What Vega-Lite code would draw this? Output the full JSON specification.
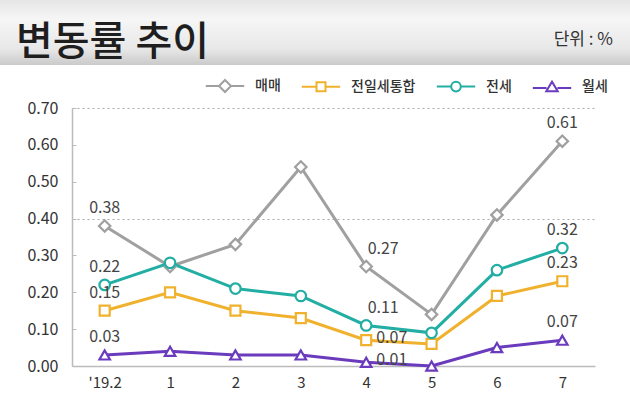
{
  "$schema": "https://vega.github.io/schema/vega-lite/v6.json",
  "padding": 0,
  "background": "white",
  "spacing": 14,
  "config": {"view": {"stroke": null}, "font": "Noto Sans CJK KR"},
  "resolve": {"scale": {"color": "independent"}, "legend": {"color": "independent"}},
  "vconcat": [
    {
      "spacing": 0,
      "hconcat": [
        {
          "width": 400,
          "height": 65,
          "data": {"values": [{"part": "header"}]},
          "mark": {"type": "rect", "fill": {"gradient": "linear", "x1": 0, "y1": 0, "x2": 0, "y2": 1, "stops": [{"offset": 0, "color": "#e6e6e6"}, {"offset": 0.3, "color": "#f6f6f6"}, {"offset": 0.75, "color": "#e8e8e8"}, {"offset": 1, "color": "#cacaca"}]}},
          "title": {"text": "변동률 추이", "orient": "top", "anchor": "start", "frame": "group", "offset": -95, "baseline": "alphabetic", "fontSize": 40, "fontWeight": 500, "color": "#1e1e1e", "dx": 16, "font": "Noto Sans CJK KR"}
        },
        {
          "width": 230,
          "height": 65,
          "data": {"values": [{"part": "header"}]},
          "mark": {"type": "rect", "fill": {"gradient": "linear", "x1": 0, "y1": 0, "x2": 0, "y2": 1, "stops": [{"offset": 0, "color": "#e6e6e6"}, {"offset": 0.3, "color": "#f6f6f6"}, {"offset": 0.75, "color": "#e8e8e8"}, {"offset": 1, "color": "#cacaca"}]}},
          "title": {"text": "단위 : %", "orient": "top", "anchor": "end", "frame": "group", "offset": -62, "baseline": "alphabetic", "fontSize": 17, "fontWeight": "normal", "color": "#333333", "dx": -17, "font": "Noto Sans CJK KR"}
        }
      ]
    },
    {
      "width": 595,
      "height": 258,
      "data": {"values": [
        {"month": "'19.2", "series": "매매", "value": 0.38},
        {"month": "1", "series": "매매", "value": 0.27},
        {"month": "2", "series": "매매", "value": 0.33},
        {"month": "3", "series": "매매", "value": 0.54},
        {"month": "4", "series": "매매", "value": 0.27},
        {"month": "5", "series": "매매", "value": 0.14},
        {"month": "6", "series": "매매", "value": 0.41},
        {"month": "7", "series": "매매", "value": 0.61},
        {"month": "'19.2", "series": "전일세통합", "value": 0.15},
        {"month": "1", "series": "전일세통합", "value": 0.20},
        {"month": "2", "series": "전일세통합", "value": 0.15},
        {"month": "3", "series": "전일세통합", "value": 0.13},
        {"month": "4", "series": "전일세통합", "value": 0.07},
        {"month": "5", "series": "전일세통합", "value": 0.06},
        {"month": "6", "series": "전일세통합", "value": 0.19},
        {"month": "7", "series": "전일세통합", "value": 0.23},
        {"month": "'19.2", "series": "전세", "value": 0.22},
        {"month": "1", "series": "전세", "value": 0.28},
        {"month": "2", "series": "전세", "value": 0.21},
        {"month": "3", "series": "전세", "value": 0.19},
        {"month": "4", "series": "전세", "value": 0.11},
        {"month": "5", "series": "전세", "value": 0.09},
        {"month": "6", "series": "전세", "value": 0.26},
        {"month": "7", "series": "전세", "value": 0.32},
        {"month": "'19.2", "series": "월세", "value": 0.03},
        {"month": "1", "series": "월세", "value": 0.04},
        {"month": "2", "series": "월세", "value": 0.03},
        {"month": "3", "series": "월세", "value": 0.03},
        {"month": "4", "series": "월세", "value": 0.01},
        {"month": "5", "series": "월세", "value": 0.00},
        {"month": "6", "series": "월세", "value": 0.05},
        {"month": "7", "series": "월세", "value": 0.07}
      ]},
      "encoding": {
        "x": {"field": "month", "type": "ordinal", "sort": null, "scale": {"type": "point", "padding": 0.5, "range": [72, 595]},
          "axis": {"title": null, "labelAngle": 0, "labelFontSize": 15, "labelColor": "#333333", "labelPadding": 9, "ticks": false, "domainColor": "#bbbbbb", "domainWidth": 1.5, "grid": false}},
        "y": {"field": "value", "type": "quantitative", "scale": {"domain": [0, 0.7], "nice": false},
          "axis": {"title": null, "offset": -72, "values": [0, 0.1, 0.2, 0.3, 0.4, 0.5, 0.6, 0.7], "format": ".2f", "labelFontSize": 16, "labelColor": "#333333", "labelPadding": 18, "tickSize": -4, "tickColor": "#bbbbbb", "domainColor": "#bbbbbb", "domainWidth": 1.5,
            "grid": true, "gridColor": "#aaaaaa", "gridDash": [2, 3], "gridWidth": 1,
            "gridOpacity": {"expr": "(datum.value > 0.39 && datum.value < 0.41) || datum.value > 0.69 ? 1 : 0"}}},
        "color": {"field": "series", "type": "nominal",
          "scale": {"domain": ["매매", "전일세통합", "전세", "월세"], "range": ["#a0a0a0", "#f0b22e", "#22aea3", "#6a3bbd"]},
          "legend": {"orient": "none", "legendX": 218, "legendY": -29, "direction": "horizontal", "title": null,
            "symbolSize": 144, "symbolStrokeWidth": 2, "labelFontSize": 14, "labelFontWeight": 500, "labelColor": "#333333", "labelOffset": 23, "columnPadding": 16, "labelFont": "Noto Sans CJK KR",
            "encode": {"symbols": {"update": {
              "shape": {"signal": "datum.value === '매매' ? 'M-3.2,0L-1,0M1,0L3.2,0M0,-1L1,0L0,1L-1,0Z' : datum.value === '전일세통합' ? 'M-3.2,0L-0.75,0M0.75,0L3.2,0M-0.75,-0.75L0.75,-0.75L0.75,0.75L-0.75,0.75Z' : datum.value === '전세' ? 'M-3.2,0L-0.8,0M0.8,0L3.2,0M-0.8,0A0.8,0.8,0,1,0,0.8,0A0.8,0.8,0,1,0,-0.8,0Z' : 'M-3.2,0.2L-0.9,0.2M0.9,0.2L3.2,0.2M0,-0.85L0.95,0.75L-0.95,0.75Z'"},
              "fill": {"value": "white"},
              "strokeWidth": {"value": 2},
              "opacity": {"value": 1}
            }}}}}
      },
      "layer": [
        {"mark": {"type": "line", "strokeWidth": 3}},
        {"transform": [{"filter": "datum.series === '매매'"}], "mark": {"type": "point", "shape": "diamond", "filled": false, "fill": "white", "strokeWidth": 2.2, "size": 130, "opacity": 1}},
        {"transform": [{"filter": "datum.series === '전일세통합'"}], "mark": {"type": "point", "shape": "square", "filled": false, "fill": "white", "strokeWidth": 2.2, "size": 100, "opacity": 1}},
        {"transform": [{"filter": "datum.series === '전세'"}], "mark": {"type": "point", "shape": "circle", "filled": false, "fill": "white", "strokeWidth": 2.2, "size": 110, "opacity": 1}},
        {"transform": [{"filter": "datum.series === '월세'"}], "mark": {"type": "point", "shape": "triangle-up", "filled": false, "fill": "white", "strokeWidth": 2.2, "size": 110, "opacity": 1}},
        {"transform": [{"filter": "datum.month === \"'19.2\" || datum.month === '7'"}],
          "mark": {"type": "text", "dy": -18, "fontSize": 16, "font": "Noto Sans CJK KR"},
          "encoding": {"text": {"field": "value", "format": ".2f"}, "color": {"value": "#444444"}}},
        {"transform": [{"filter": "datum.month === '4' && (datum.series === '매매' || datum.series === '전세')"}],
          "mark": {"type": "text", "dx": 17, "dy": -17, "fontSize": 16, "font": "Noto Sans CJK KR"},
          "encoding": {"text": {"field": "value", "format": ".2f"}, "color": {"value": "#444444"}}},
        {"transform": [{"filter": "datum.month === '4' && (datum.series === '전일세통합' || datum.series === '월세')"}],
          "mark": {"type": "text", "align": "left", "dx": 10, "dy": -2, "baseline": "middle", "fontSize": 16, "font": "Noto Sans CJK KR"},
          "encoding": {"text": {"field": "value", "format": ".2f"}, "color": {"value": "#444444"}}}
      ]
    }
  ]
}
